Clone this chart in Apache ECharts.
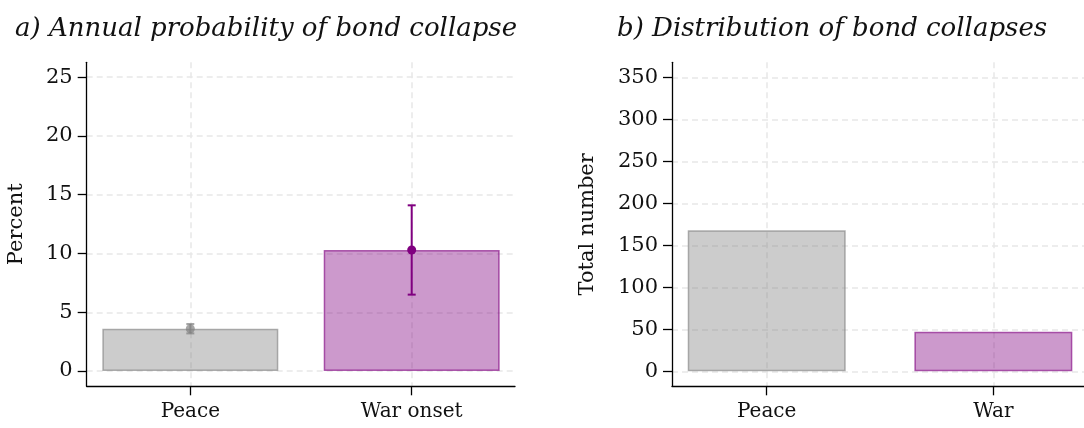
<!DOCTYPE html>
<html>
<head>
<meta charset="utf-8">
<script src="https://cdn.jsdelivr.net/npm/echarts@6/dist/echarts.min.js"></script>
<style>
  html, body { margin: 0; padding: 0; background: #fff; }
  #chart { width: 1084px; height: 428px; }
</style>
</head>
<body>
<div id="chart"></div>
<script>
// Panel a: annual probability of bond collapse (percent, with confidence interval)
const probCategories = ['Peace', 'War onset'];
const probValues = [3.6, 10.3];
const probLower = [3.2, 6.5];
const probUpper = [4.0, 14.1];
const probTicks = [0, 5, 10, 15, 20, 25];

// Panel b: total number of bond collapses
const countCategories = ['Peace', 'War'];
const countValues = [168, 47];
const countTicks = [0, 50, 100, 150, 200, 250, 300, 350];

const FONT = 'DejaVu Serif';
const GRID_LINE = { show: true, lineStyle: { color: '#e8e8e8', width: 1.5, type: [6, 4] } };

const barFill = ['rgba(128,128,128,0.4)', 'rgba(128,0,128,0.4)'];
const barEdge = ['rgba(128,128,128,0.62)', 'rgba(128,0,128,0.62)'];
const errColor = ['rgba(128,128,128,0.7)', '#800080'];

function categoryAxis(idx, cats, min, max) {
  return {
    gridIndex: idx,
    type: 'value',
    min: min,
    max: max,
    axisLine: { onZero: false, lineStyle: { color: '#000', width: 1.3 } },
    axisTick: { customValues: [0, 1], length: 9, lineStyle: { color: '#000', width: 1.3 } },
    axisLabel: {
      customValues: [0, 1],
      formatter: v => cats[Math.round(v)],
      margin: 15,
      color: '#111',
      fontFamily: FONT,
      fontSize: 20
    },
    splitLine: GRID_LINE
  };
}

function valueAxis(idx, ticks, min, max, name, gap) {
  return {
    gridIndex: idx,
    type: 'value',
    min: min,
    max: max,
    name: name,
    nameLocation: 'middle',
    nameGap: gap,
    nameTextStyle: { color: '#111', fontFamily: FONT, fontSize: 21 },
    axisLine: { show: true, onZero: false, lineStyle: { color: '#000', width: 1.3 } },
    axisTick: { show: true, customValues: ticks, length: 9, lineStyle: { color: '#000', width: 1.3 } },
    axisLabel: { customValues: ticks, margin: 14, color: '#111', fontFamily: FONT, fontSize: 21 },
    splitLine: GRID_LINE
  };
}

function barSeries(idx, values, width) {
  return {
    type: 'bar',
    xAxisIndex: idx,
    yAxisIndex: idx,
    barWidth: width,
    z: 2,
    data: values.map((v, i) => ({
      value: [i, v],
      itemStyle: { color: barFill[i], borderColor: barEdge[i], borderWidth: 1.5 }
    }))
  };
}

const errorData = probValues.map((v, i) => [i, probLower[i], probUpper[i], v]);

const titleStyle = { fontFamily: FONT, fontStyle: 'italic', fontWeight: 'normal', fontSize: 26, color: '#111' };

const option = {
  backgroundColor: '#fff',
  animation: false,
  title: [
    { text: 'a) Annual probability of bond collapse', left: 10, top: 11, textStyle: titleStyle },
    { text: 'b) Distribution of bond collapses', left: 612, top: 11, textStyle: titleStyle }
  ],
  grid: [
    { left: 86.7, right: 569, top: 62.3, bottom: 41.7 },
    { left: 672, right: 0, top: 62.3, bottom: 41.7 }
  ],
  xAxis: [
    categoryAxis(0, probCategories, -0.468, 1.4666),
    categoryAxis(1, countCategories, -0.418, 1.4)
  ],
  yAxis: [
    valueAxis(0, probTicks, -1.3, 26.27, 'Percent', 60),
    valueAxis(1, countTicks, -17.9, 367.9, 'Total number', 74)
  ],
  series: [
    barSeries(0, probValues, 176),
    {
      type: 'custom',
      xAxisIndex: 0,
      yAxisIndex: 0,
      z: 5,
      encode: { x: 0, y: [1, 2, 3] },
      data: errorData,
      renderItem: function (params, api) {
        const x = api.value(0);
        const lo = api.coord([x, api.value(1)]);
        const hi = api.coord([x, api.value(2)]);
        const mid = api.coord([x, api.value(3)]);
        const c = errColor[params.dataIndex];
        const cap = 4;
        const line = { stroke: c, lineWidth: 2 };
        return {
          type: 'group',
          children: [
            { type: 'line', shape: { x1: hi[0], y1: hi[1], x2: lo[0], y2: lo[1] }, style: line },
            { type: 'line', shape: { x1: hi[0] - cap, y1: hi[1], x2: hi[0] + cap, y2: hi[1] }, style: line },
            { type: 'line', shape: { x1: lo[0] - cap, y1: lo[1], x2: lo[0] + cap, y2: lo[1] }, style: line },
            { type: 'circle', shape: { cx: mid[0], cy: mid[1], r: 4.5 }, style: { fill: c } }
          ]
        };
      }
    },
    barSeries(1, countValues, 158)
  ]
};

const chart = echarts.init(document.getElementById('chart'), null, { renderer: 'canvas' });
chart.setOption(option);
</script>
</body>
</html>
